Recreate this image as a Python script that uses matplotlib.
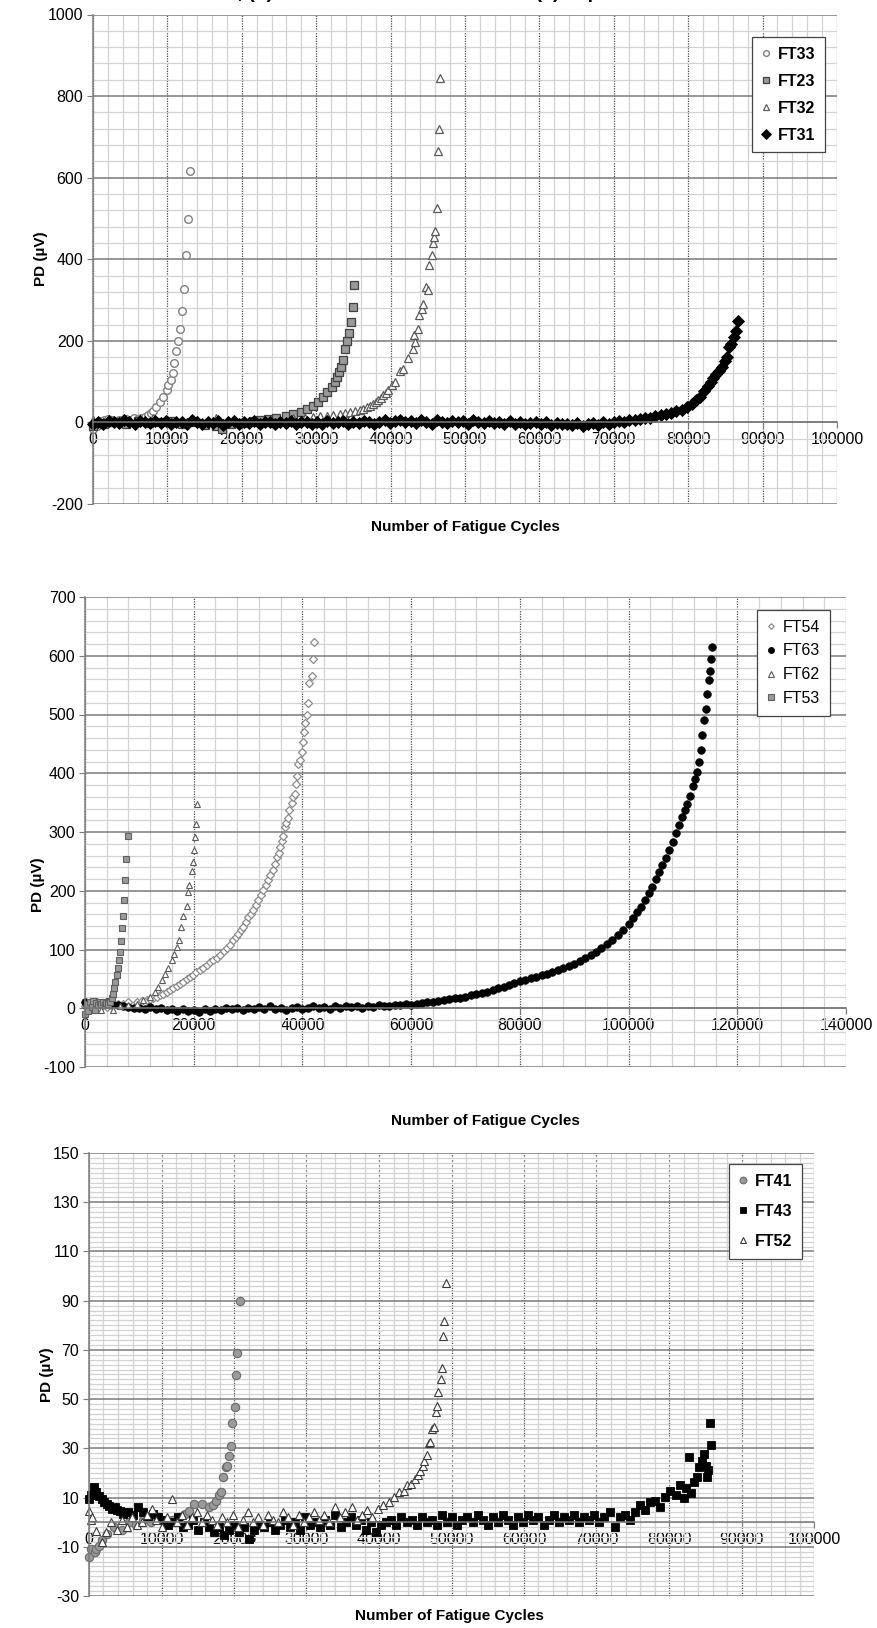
import matplotlib
matplotlib.use("Agg")
import matplotlib.pyplot as plt
from matplotlib.ticker import StrMethodFormatter

plt.rcParams["font.family"] = ["Liberation Sans", "DejaVu Sans"]
plt.rcParams["axes.unicode_minus"] = False

# ---------------- panel (a) ----------------
ft33_x = [0, 500, 1000, 1500, 2000, 2500, 3000, 3500, 4000, 4500,
          5000, 5500, 6000, 6500, 7000, 7400, 7800, 8100, 8500, 9000,
          9400, 9900, 10100, 10450, 10770, 10940, 11200, 11430, 11750, 12010,
          12200, 12460, 12710, 13040]
ft33_y = [-15, -8, 3, 5, 8, 6, 4, 7, 5, 9,
          7, 10, 8, 12, 14, 18, 22, 27, 37, 51,
          63, 79, 91, 104, 122, 146, 175, 200, 229, 274,
          328, 410, 498, 616]

ft23_x = [0, 1500, 3000, 4500, 6000, 7500, 9000, 10500, 12000, 13500,
          15000, 16500, 17300, 18500, 20000, 21500, 22500, 23500, 24660, 26000,
          26890, 27900, 28700, 29600, 30280, 30940, 31500, 32060, 32500, 32740,
          33100, 33400, 33640, 33860, 34080, 34350, 34700, 35000, 35110]
ft23_y = [-10, -5, 2, -3, 4, -2, 0, 3, -4, 1,
          -6, -8, -15, -5, -2, 3, 6, 9, 12, 16,
          20, 26, 32, 40, 51, 63, 75, 87, 100, 112,
          124, 136, 153, 179, 200, 218, 247, 283, 336]

ft32_x = [0, 2000, 4000, 6000, 8000, 10000, 12000, 14000, 16500, 18000,
          20000, 22000, 24000, 26910, 28500, 29600, 30500, 31390, 32300, 33190,
          33900, 34530, 35200, 35880, 36300, 36770, 37200, 37660, 38000, 38340,
          38700, 39010, 39400, 39690, 40130, 40580, 41250, 41700, 42380, 42960,
          43130, 43270, 43720, 43850, 44170, 44390, 44750, 44980, 45160, 45500,
          45700, 45850, 46000, 46200, 46400, 46500, 46700]
ft32_y = [5, 2, 8, 4, 12, 6, 3, 5, 12, 2,
          0, 4, 3, 10, 12, 14, 15, 16, 18, 20,
          22, 25, 27, 30, 33, 37, 40, 45, 50, 55,
          60, 67, 72, 79, 91, 100, 127, 132, 157, 179,
          214, 198, 229, 263, 277, 291, 331, 324, 385, 410,
          440, 455, 470, 525, 665, 720, 845]

ft31_x = [0, 700, 1400, 2100, 2800, 3500, 4200, 4900, 5600, 6300,
          7000, 7700, 8400, 9100, 9800, 10500, 11200, 11900, 12600, 13300,
          14000, 14700, 15400, 16100, 16800, 17500, 18200, 18900, 19600, 20300,
          21000, 21700, 22400, 23100, 23800, 24500, 25200, 25900, 26600, 27300,
          28000, 28700, 29400, 30100, 30800, 31500, 32200, 32900, 33600, 34300,
          35000, 35700, 36400, 37100, 37800, 38500, 39200, 39900, 40600, 41300,
          42000, 42700, 43400, 44100, 44800, 45500, 46200, 46900, 47600, 48300,
          49000, 49700, 50400, 51100, 51800, 52500, 53200, 53900, 54600, 55300,
          56000, 56700, 57400, 58100, 58800, 59500, 60200, 60900, 61600, 62300,
          63000, 63700, 64400, 65100, 65800, 66500, 67200, 67900, 68600, 69300,
          70000, 70700, 71400, 72100, 72800, 73500, 74200, 74900, 75600, 76300,
          77000, 77700, 78400, 79100, 79800,
          80500, 81100, 81600, 82100, 82600, 83000, 83400, 83800, 84100, 84500,
          84900, 85200, 85500, 85800, 86100, 86400, 86700]
ft31_y = [-5, 2, -3, 4, 1, -2, 5, 0, -4, 3, 2,
          -2, 4, -1, 3, -5, 2, 0, -3, 5, 1,
          -4, 2, -2, 3, -6, 0, 4, -3, 1, -2,
          3, -4, 0, 2, -5, 1, -2, 4, -3, 0,
          2, -4, 1, -3, 3, -2, 0, 4, -5, 1,
          -2, 3, 0, -4, 2, 5, -1, 3, 6, 0,
          4, -2, 5, 1, -3, 6, 2, -1, 4, 0,
          3, -3, 5, 1, -2, 4, -1, 2, -4, 3,
          -3, 1, -5, -2, 2, -4, 0, -6, -2, -5,
          -3, -7, -1, -9, -4, -2, -6, 0, -3, 1,
          3, 2, 6, 5, 9, 12, 11, 15, 17,
          20, 22, 27, 30, 38,
          45, 55, 63, 78, 90, 100, 108, 118, 127, 135,
          150, 160, 185, 192, 210, 225, 248]

# ---------------- panel (b) ----------------
ft54_x = [0, 800, 1600, 2400, 3200, 4000, 4800, 5210, 6000, 7050,
          8000, 9510, 10500, 11350, 12000, 12580, 13200, 13800, 14400, 15030,
          15600, 16260, 16900, 17480, 18100, 18710, 19300, 19940, 20500, 21170,
          21800, 22390, 23000, 23620, 24200, 24850, 25500, 26070, 26700, 27300,
          27800, 28220, 28700, 29140, 29600, 30060, 30500, 30980, 31400, 31900,
          32300, 32820, 33300, 33740, 34100, 34540, 34900, 35280, 35600, 35890,
          36200, 36500, 36810, 37000, 37420, 37610, 38000, 38230, 38600, 38840,
          39030, 39270, 39580, 39890, 40070, 40320, 40500, 40750, 41000, 41300,
          41670, 41920, 42100]
ft54_y = [3, -2, 5, 0, 4, 2, 6, 6, 7, 8,
          10, 11, 13, 14, 16, 17, 20, 23, 25, 28,
          31, 34, 38, 42, 45, 49, 53, 57, 61, 65,
          69, 74, 78, 82, 86, 91, 97, 102, 108, 116,
          121, 127, 133, 139, 147, 156, 161, 167, 175, 184,
          192, 201, 209, 218, 226, 235, 245, 257, 265, 274,
          284, 294, 308, 315, 323, 338, 350, 359, 365, 382,
          396, 415, 423, 436, 454, 470, 485, 499, 520, 553,
          565, 594, 624]

ft63_x = [0, 1000, 2000, 3000, 4000, 5000, 6000, 7000, 8000, 9000,
          10000, 11000, 12000, 13000, 14000, 15000, 16000, 17000, 18000, 19000,
          20000, 21000, 22000, 23000, 24000, 25000, 26000, 27000, 28000, 29000,
          30000, 31000, 32000, 33000, 34000, 35000, 36000, 37000, 38000, 39000,
          40000, 41000, 42000, 43000, 44000, 45000, 46000, 47000, 48000, 49000,
          50000, 51000, 52000, 53000, 54000, 55000, 56000, 57000, 58000, 59000,
          60000, 61000, 62000, 63000, 64000, 65000, 66000, 67000, 68000, 69000,
          70000, 71000, 72000, 73000, 74000, 75000, 76000, 77000, 78000, 79000,
          80000, 81000, 82000, 83000, 84000, 85000, 86000, 87000, 88000, 89000,
          90000, 91000, 92000, 93000, 94000, 95000, 96000, 97000, 98000, 99000,
          100000, 100800, 101600, 102300, 103000, 103700, 104300, 105000, 105600, 106200,
          106800, 107400, 108100, 108700, 109300, 109800, 110300, 110800, 111300, 111800,
          112200, 112600, 113000, 113300, 113600, 113900, 114200, 114500, 114800, 115000,
          115200, 115400]
ft63_y = [10, 9, 11, 8, 10, 7, 5, 3, 2, 1,
          0, -1, 2, -2, 0, -3, -1, -4, -2, -5,
          -3, -6, -2, -4, -1, -3, 0, -2, 1, -3,
          0, -2, 2, -1, 3, -2, 1, -3, 0, 2,
          -1, 1, 3, 0, 2, -1, 3, 1, 4, 2,
          3, 1, 4, 2, 5, 3, 4, 5, 5, 7,
          6, 8, 9, 10, 11, 12, 14, 15, 17, 18,
          20, 22, 24, 26, 28, 31, 34, 36, 40, 43,
          46, 48, 51, 54, 56, 59, 62, 65, 68, 72,
          76, 80, 85, 90, 96, 102, 109, 116, 124, 133,
          143, 153, 163, 173, 185, 197, 207, 220, 232, 243,
          256, 270, 283, 298, 312, 325, 337, 348, 362, 378,
          390, 402, 420, 440, 465, 490, 510, 535, 558, 574,
          595, 615]

ft62_x = [0, 1000, 2000, 3000, 4000, 5200, 6500, 8000, 9510, 10740,
          11960, 12880, 13500, 14110, 14720, 15340, 15950, 16380, 16870, 17300,
          17670, 18100, 18710, 18900, 19200, 19630, 19820, 20060, 20310, 20430,
          20670]
ft62_y = [5, 0, 8, -3, 6, -3, 4, 6, 8, 14,
          20, 28, 37, 48, 59, 68, 82, 93, 105, 117,
          139, 157, 174, 198, 209, 234, 249, 269, 291, 314,
          348]

ft53_x = [0, 300, 600, 900, 1200, 1500, 1800, 2100, 2400, 2700,
          3000, 3300, 3600, 3900, 4200, 4600, 4900, 5210, 5400, 5580,
          5830, 6010, 6200, 6440, 6560, 6750, 6930, 7120, 7420, 7550,
          7850]
ft53_y = [-10, 8, -5, 10, 2, 12, -3, 9, 5, 11,
          7, 10, 6, 9, 8, 11, 17, 25, 34, 45,
          57, 68, 82, 95, 115, 136, 157, 184, 218, 254,
          294]

# ---------------- panel (c) ----------------
ft41_x = [0, 290, 860, 1010, 1370, 1730, 2500, 3500, 4500, 5500,
          6500, 7500, 8500, 9500, 10500, 11500, 12530, 13250, 13820, 14540,
          15550, 16490, 17060, 17570, 17930, 18140, 18500, 18860, 19010, 19370,
          19580, 19730, 20090, 20330, 20480, 20810]
ft41_y = [-14.2, -11, -12.3, -10.8, -9.5, -7.4, -5, -2, -3, 0,
          -1, 1, 0, 2, -1, 1, 2, 3.4, 4.7, 7.4,
          7.2, 6.1, 6.8, 8.8, 11.2, 12.2, 18.2, 22.3, 23, 27,
          31.1, 40.1, 46.6, 59.8, 68.8, 90]

ft43_x = [0, 300, 650, 1010, 1400, 1730, 2100, 2450, 2800, 3200,
          3530, 3900, 4250, 4700, 5330, 6000, 6770, 7400, 8100, 8800,
          9500,
          10200, 10900, 11600, 12300, 13000, 13700, 14400, 15100, 15800, 16500,
          17200, 17900, 18600, 19300, 20000, 20700, 21400, 22100, 22800, 23500,
          24200, 24900, 25600, 26300, 27000, 27700, 28400, 29100, 29800, 30500,
          31200, 31900, 32600, 33300, 34000, 34700, 35400, 36100, 36800, 37500,
          38200, 38900, 39600, 40300, 41000, 41700, 42400, 43100, 43800, 44500,
          45200, 45900, 46600, 47300, 48000, 48700, 49400, 50100, 50800, 51500,
          52200, 52900, 53600, 54300, 55000, 55700, 56400, 57100, 57800, 58500,
          59200, 59900, 60600, 61300, 62000, 62700, 63400, 64100, 64800, 65500,
          66200, 66900, 67600, 68300, 69000, 69700, 70400, 71100, 71800, 72500,
          73200, 73900, 74600, 75300, 76000, 76700, 77400, 78100, 78800, 79500,
          80200, 80900, 81500, 82000, 82400, 82720, 83100, 83440, 83800, 84160,
          84520, 84880, 85090, 85240, 85400, 85600, 85810]
ft43_y = [9.5, 11, 14.2, 12.2, 10.5, 9.5, 8, 7.4, 6.5, 5.5,
          6.1, 5, 4.7, 3.5, 4.1, 3, 6.1, 4, 2.5, 3.5,
          2,
          1, -1, 0, 2, -2, -1, 1, -3, 0, -2,
          -4, -2, -5.4, -3, -1, -4, -2, -6.8, -3, -1,
          -2, 0, -3, -1, 1, -2, 0, -3, 2, -1,
          0, -2, 1, -1, 3, -2, 0, 2, -1, 1,
          -3, 0, -4, -1, 0, 1, -1, 2, 0, 1,
          -1, 2, 0, 1, -1, 3, 0, 2, -1, 1,
          2, 0, 3, 1, -1, 2, 0, 3, 1, -1,
          2, 0, 3, 1, 2, -1, 1, 3, 0, 2,
          1, 3, 0, 2, 1, 3, 0, 2, 4, -2,
          2, 3, 1, 4, 6.8, 5, 8.1, 8.8, 6, 10.1,
          12.8, 11, 14.9, 10, 14, 26.4, 12, 16.2, 18.2, 22.3,
          25, 27.7, 23, 18.2, 21, 40.1, 31.4]

ft52_x = [0, 300, 430, 1010, 1730, 2400, 3100, 3800, 4500, 5200,
          5900, 6600, 7300, 8000, 8640, 9300, 10000, 10700, 11450, 12100,
          12800, 13500, 14200, 14900, 15600, 16300, 17000, 17700, 18400, 19100,
          19800, 20500, 21200, 21900, 22600, 23300, 24000, 24700, 25400, 26100,
          26800, 27500, 28200, 28900, 29600, 30300, 31000, 31700, 32400, 33100,
          33980, 34600, 35300, 36290, 37000, 37700, 38400, 39100, 39890, 40610,
          41330, 42050, 42770, 43490, 43840, 44350, 44920, 45360, 45640, 46000,
          46220, 46580, 46940, 47080, 47300, 47520, 47800, 47950, 48160, 48520,
          48740, 48880, 49020, 49250]
ft52_y = [4.7, 0.7, 2, -3.4, -8.1, -4, 0, -3, 1, -2,
          2, -1, 0, 3, 5.4, 1, -2, 2, 9.5, 0,
          3, -1, 2, 4, 0, 3, 1, -1, 2, 0,
          3, -2, 1, 4, 0, 2, -1, 3, 1, 0,
          4, 2, -1, 3, 0, 2, 4, 1, 3, 0,
          6, 2, 4, 6.3, 1, 3, 5, 2, 5.4, 6.8,
          8.1, 10.1, 12.2, 12.8, 14.9, 15.5, 17.6, 19.3, 20.9, 23,
          25, 27.4, 32, 32.4, 37.8, 38.8, 44.6, 47.3, 52.7, 58.1,
          62.8, 75.6, 81.8, 97.3]

W, H = 878, 1628
fig = plt.figure(figsize=(W / 100, H / 100), dpi=100)
fig.patch.set_facecolor("white")


def axes_px(left, top, right, bottom):
    # place an axes using pixel edges measured from the top-left corner
    return fig.add_axes([left / W, 1 - bottom / H, (right - left) / W, (bottom - top) / H])


def excel_grid(ax, xmax, xmajor, xminor, ymin, ymax, ymajor, yminor):
    ax.set_xlim(0, xmax)
    ax.set_ylim(ymin, ymax)
    ax.set_xticks(range(0, xmax + 1, xmajor))
    ax.set_xticks(range(0, xmax + 1, xminor), minor=True)
    ax.set_yticks(range(ymin, ymax + 1, ymajor))
    ax.set_yticks(range(ymin, ymax + 1, yminor), minor=True)
    ax.xaxis.set_major_formatter(StrMethodFormatter("{x:.0f}"))
    ax.yaxis.set_major_formatter(StrMethodFormatter("{x:.0f}"))
    ax.set_axisbelow(True)
    ax.grid(which="minor", color="#d2d2d2", lw=0.9)
    ax.grid(which="major", axis="y", color="#7a7a7a", lw=1.1)
    ax.grid(which="major", axis="x", color="#4a4a4a", lw=0.9, ls=(0, (1, 1)))
    for side in ("top", "right"):
        ax.spines[side].set_visible(False)
    ax.spines["left"].set_color("#7a7a7a")
    ax.spines["bottom"].set_color("#7a7a7a")
    ax.spines["bottom"].set_position(("data", 0))
    ax.spines["left"].set_linewidth(1.1)
    ax.spines["bottom"].set_linewidth(1.1)
    ax.tick_params(which="major", length=4, color="#7a7a7a", labelsize=11.5, pad=3)
    ax.tick_params(which="minor", length=0)


def add_legend(ax, x0, y0, bold, spacing, scale):
    leg = ax.legend(loc="upper left", bbox_to_anchor=(x0 / W, 1 - y0 / H),
                    bbox_transform=fig.transFigure, borderaxespad=0,
                    fancybox=False, framealpha=1, edgecolor="#444444",
                    handlelength=0.6, handletextpad=0.4, labelspacing=spacing,
                    borderpad=0.6, markerscale=scale,
                    prop={"size": 11.5, "weight": "bold" if bold else "normal"})
    leg.get_frame().set_linewidth(0.9)


# (a)
ax1 = axes_px(93, 14.5, 837, 504)
excel_grid(ax1, 100000, 10000, 2000, -200, 1000, 200, 40)
ax1.plot(ft33_x, ft33_y, ls="none", marker="o", ms=5.5, mfc="white", mec="#808080", mew=1.0,
         clip_on=False, label="FT33")
ax1.plot(ft23_x, ft23_y, ls="none", marker="s", ms=6, mfc="#9a9a9a", mec="#404040", mew=0.9,
         clip_on=False, label="FT23")
ax1.plot(ft32_x, ft32_y, ls="none", marker="^", ms=6, mfc="white", mec="#5a5a5a", mew=0.9,
         clip_on=False, label="FT32")
ax1.plot(ft31_x, ft31_y, ls="none", marker="D", ms=6.5, mfc="black", mec="black", mew=0.6,
         clip_on=False, label="FT31")
add_legend(ax1, 752, 37, True, 0.75, 0.75)
fig.text(465 / W, 1 - 527 / H, "Number of Fatigue Cycles", ha="center", va="center",
         fontsize=11, fontweight="bold")
fig.text(41 / W, 1 - 259 / H, "PD (µV)", ha="center", va="center", rotation=90,
         fontsize=11, fontweight="bold")

# (b)
ax2 = axes_px(85, 597, 846, 1067)
excel_grid(ax2, 140000, 20000, 4000, -100, 700, 100, 20)
ax2.plot(ft54_x, ft54_y, ls="none", marker="D", ms=3.6, mfc="white", mec="#8a8a8a", mew=0.9,
         clip_on=False, label="FT54")
ax2.plot(ft63_x, ft63_y, ls="none", marker="o", ms=5.4, mfc="black", mec="black", mew=0.6,
         clip_on=False, label="FT63")
ax2.plot(ft62_x, ft62_y, ls="none", marker="^", ms=5, mfc="white", mec="#5a5a5a", mew=0.8,
         clip_on=False, label="FT62")
ax2.plot(ft53_x, ft53_y, ls="none", marker="s", ms=5, mfc="#9a9a9a", mec="#606060", mew=0.8,
         clip_on=False, label="FT53")
add_legend(ax2, 757, 610, False, 0.55, 0.8)
fig.text(485 / W, 1 - 1121 / H, "Number of Fatigue Cycles", ha="center", va="center",
         fontsize=11, fontweight="bold")
fig.text(38 / W, 1 - 885 / H, "PD (µV)", ha="center", va="center", rotation=90,
         fontsize=11, fontweight="bold")

# (c)
ax3 = axes_px(89, 1153, 814, 1596)
excel_grid(ax3, 100000, 10000, 2000, -30, 150, 20, 2)
ax3.plot(ft41_x, ft41_y, ls="none", marker="o", ms=6, mfc="#9a9a9a", mec="#6a6a6a", mew=0.8,
         clip_on=False, label="FT41")
ax3.plot(ft43_x, ft43_y, ls="none", marker="s", ms=6, mfc="black", mec="black", mew=0.6,
         clip_on=False, label="FT43")
ax3.plot(ft52_x, ft52_y, ls="none", marker="^", ms=6, mfc="white", mec="#3a3a3a", mew=0.8,
         clip_on=False, label="FT52")
add_legend(ax3, 729, 1164, True, 0.95, 0.8)
fig.text(449 / W, 1 - 1616 / H, "Number of Fatigue Cycles", ha="center", va="center",
         fontsize=11, fontweight="bold")
fig.text(47 / W, 1 - 1375 / H, "PD (µV)", ha="center", va="center", rotation=90,
         fontsize=11, fontweight="bold")

# caption line above the first chart, mostly cut off by the top edge
fig.text(22 / W, 1 + 1.5 / H, "PD rise in FT31 to FT33, (b) FT53 to FT63 at R = 0.5 and (c) at peak load",
         ha="left", va="baseline", fontsize=14, fontweight="bold")

fig.savefig("out.png", dpi=100)
